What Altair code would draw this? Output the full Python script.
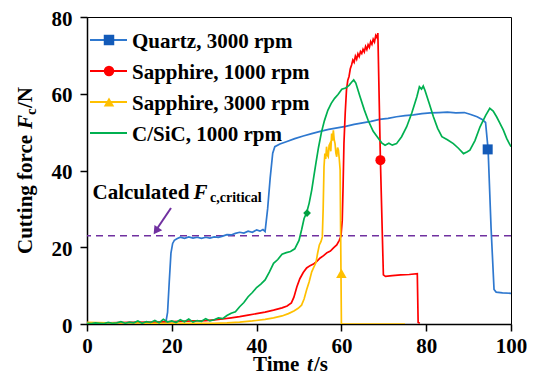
import altair as alt
import pandas as pd

FONT = "Liberation Serif"

# ---------------- data ----------------
series_names = ["Quartz, 3000 rpm", "Sapphire, 1000 rpm", "Sapphire, 3000 rpm", "C/SiC, 1000 rpm"]
line_colors = ["#2E78CF", "#FF0000", "#FFC000", "#00B050"]
marker_colors = ["#135AB8", "#FF0000", "#FFC000", "#00A040"]
marker_shapes = ["square", "circle", "triangle-up", "diamond"]

quartz_t = [0, 4, 8, 12, 16, 18.6, 19.0, 19.4, 19.8, 20.2, 20.6, 21.2,
            22, 23, 24, 25, 26, 27, 28, 29, 30, 31, 32, 33, 34, 35, 36, 37, 38, 39, 40,
            40.8, 41.5, 42.0, 42.6, 43.2, 43.8, 44.3, 45.5,
            47, 49, 51, 53, 55, 57, 59, 61, 63, 65, 67, 69, 71, 73, 75, 77, 79, 81, 83, 85, 87, 89,
            90.5, 92, 93.2, 94.0, 94.6, 95.3, 96.0, 96.5, 98, 100]
quartz_f = [0.2, 0.3, 0.2, 0.3, 0.3, 0.4, 3.0, 11.0, 18.5, 21.0, 21.8, 22.2,
            22.6, 22.3, 22.7, 22.4, 22.6, 22.3, 22.6, 22.4, 22.7, 22.6, 22.9, 23.3, 23.2, 23.6, 23.9, 23.7, 24.2, 23.9, 24.5,
            24.2, 24.6, 24.1, 30.0, 38.0, 44.5, 46.2, 46.9,
            47.5, 48.3, 49.0, 49.6, 50.2, 50.7, 51.1, 51.5, 52.0, 52.4, 52.8, 53.3, 53.6, 54.0, 54.3, 54.5, 54.8, 55.0, 55.1, 55.2, 55.0, 55.1,
            54.6, 54.0, 53.3, 52.5, 45.5, 25.0, 9.0, 8.3, 8.1, 8.0]

sapph1000_t = [0, 5, 10, 15, 20, 25, 28, 30, 32, 34, 36, 38, 40, 42, 44, 46,
               47.2, 48.2, 48.8, 49.5, 50.2, 51.0, 51.8, 52.6, 53.4, 54.2, 55.0, 55.8, 56.6, 57.4, 58.2, 58.9, 59.5, 59.9,
               60.2, 60.4, 60.6, 60.9, 61.2, 61.5, 61.8,
               62.1, 62.4, 62.7, 63.0, 63.3, 63.6, 63.9, 64.2, 64.5, 64.8, 65.1, 65.4, 65.7, 66.0, 66.3, 66.6, 66.9,
               67.2, 67.5, 67.8, 68.1, 68.4, 68.6,
               69.2, 69.9, 70.4, 72, 74, 76, 77.9, 78.1, 78.5]
sapph1000_f = [0.3, 0.3, 0.4, 0.5, 0.6, 0.8, 0.9, 1.1, 1.3, 1.6, 1.9, 2.3, 2.7, 3.1, 3.6, 4.2,
               4.7, 5.5, 7.0, 9.7, 11.8, 13.4, 14.6, 15.2, 15.6, 16.3, 17.2, 17.8, 18.6, 19.0, 19.9, 20.6, 21.8, 22.9,
               27.0, 36.0, 47.0, 55.0, 61.0, 63.5, 64.5,
               66.5, 67.5, 68.8, 68.2, 69.8, 69.0, 70.4, 69.7, 71.0, 70.5, 71.6, 70.9, 72.3, 71.5, 72.8, 72.1, 73.6,
               72.9, 74.2, 73.5, 75.2, 74.6, 75.8,
               42.7, 12.8, 12.4, 12.6, 12.8, 12.9, 13.1, 0.4, 0.2]

sapph3000_t = [0, 5, 10, 15, 20, 25, 30, 33, 36, 39, 42, 44, 46,
               47.5, 48.8, 49.8, 50.6, 51.2, 51.8, 52.4, 53.0, 53.5, 54.0, 54.4, 54.8, 55.2, 55.5,
               55.7, 55.9, 56.1, 56.3, 56.5, 56.7, 56.9, 57.1, 57.3, 57.5, 57.7, 57.9, 58.1, 58.3, 58.5, 58.7,
               58.9, 59.1, 59.3, 59.5, 59.7, 60.0, 62, 66, 70, 75]
sapph3000_f = [0.4, 0.3, 0.3, 0.2, 0.2, 0.2, 0.2, 0.3, 0.5, 0.8, 1.2, 1.6, 2.1,
               2.7, 3.4, 4.1, 4.9, 6.5, 8.9, 11.0, 13.6, 14.8, 16.0, 18.5, 20.6, 21.5, 22.7,
               30.0, 41.0, 44.4, 43.0, 46.2, 44.0, 43.6, 46.5, 47.0, 45.0, 49.6, 47.8, 50.5, 48.0, 47.0, 44.5,
               43.6, 46.0, 45.3, 43.0, 40.1, 0.0, 0.0, 0.0, 0.0, 0.0]

csic_t = [0, 1, 2, 3, 4, 5, 6, 7, 8, 9, 10, 11, 12, 13, 14, 15, 16, 17, 18, 19, 20,
          21, 22, 23, 24, 25, 26, 27, 28, 29, 30, 31, 32, 33, 34, 35, 36, 37, 38, 39, 40,
          41, 42, 43, 44, 45, 46, 47, 48, 49, 50,
          50.6, 51.2, 51.8, 52.4, 53.0, 53.5, 54.0, 54.6, 55.3, 56.0, 56.8, 57.6, 58.4, 59.2, 60.1, 61.0, 61.8,
          62.4, 62.9, 63.4,
          64.4, 65.4, 66.3, 67.5, 68.7, 69.5, 70.3, 71.2, 72.0, 73.0, 74.2, 75.4, 76.6, 77.8, 78.4, 78.9, 79.3, 79.7,
          80.7, 81.7, 82.7, 83.7, 85.0, 86.4, 87.6, 88.8, 89.6, 90.3, 91.5, 92.7, 94.0, 95.0, 95.8, 96.6, 97.4,
          98.2, 99.0, 100]
csic_f = [0.2, 0.1, 0.3, 0.2, 0.1, 0.4, 0.2, 0.3, 0.6, 0.2, 0.5, 0.3, 0.8, 0.2, 0.6, 0.4, 0.9, 0.3, 1.2, 0.5, 0.8,
          0.4, 1.1, 0.6, 1.3, 0.5, 0.9, 0.7, 1.4, 0.8, 1.1, 1.6, 1.4, 2.2, 2.8, 3.2, 4.5, 5.6, 7.1, 8.2, 9.5,
          10.4, 11.5, 13.5, 15.8, 16.8, 18.2, 18.6, 18.9, 19.6, 21.8,
          24.5, 27.5, 29.0, 31.5, 34.9, 38.5, 42.0, 46.0, 50.0, 53.0, 55.7, 57.5, 58.8, 59.8, 61.2, 61.5, 62.2,
          63.0, 63.6, 62.8,
          59.2, 55.8, 53.1, 50.2, 48.4, 47.2, 46.6, 47.1, 46.6, 47.0, 48.8, 51.4, 55.0, 59.2, 61.8, 61.2, 62.0, 60.9,
          57.5, 54.0, 51.0, 48.8, 48.0, 47.0, 45.8, 44.4, 44.8, 45.3, 47.8, 51.4, 54.3, 56.2, 55.5, 54.0, 52.3,
          50.5, 48.3, 46.2]

marker_t = [94.5, 69.2, 60.0, 51.9]
marker_f = [45.5, 42.7, 13.2, 28.9]
marker_sizes = [100, 100, 110, 60]

critical_force = [23]
x_ticks = [0, 20, 40, 60, 80, 100]
y_ticks = [0, 20, 40, 60, 80]

series_t = [quartz_t, sapph1000_t, sapph3000_t, csic_t]
series_f = [quartz_f, sapph1000_f, sapph3000_f, csic_f]

# ---------------- chart ----------------
X = alt.X("t:Q", scale=alt.Scale(domain=[0, 100], nice=False),
          axis=alt.Axis(values=x_ticks, title=None, labelFlush=False, labelPadding=4))
Y = alt.Y("F:Q", scale=alt.Scale(domain=[0, 80], nice=False),
          axis=alt.Axis(values=y_ticks, title=None, labelFlush=False, labelPadding=8,
                        labelOffset=2))

one = pd.DataFrame({"a": [0]})
layers = []

# dashed critical force line (drawn first, under data)
layers.append(
    alt.Chart(pd.DataFrame({"F": critical_force}))
    .mark_rule(color="#7030A0", strokeWidth=1.6, strokeDash=[7, 5])
    .encode(y=Y)
)

for name, ts, fs, col in zip(series_names, series_t, series_f, line_colors):
    df = pd.DataFrame({"t": ts, "F": fs, "i": list(range(len(ts)))})
    layers.append(
        alt.Chart(df).mark_line(color=col, strokeWidth=1.7, clip=True)
        .encode(x=X, y=Y, order="i:Q")
    )

for t, f, shp, col, sz in zip(marker_t, marker_f, marker_shapes, marker_colors, marker_sizes):
    df = pd.DataFrame({"t": [t], "F": [f]})
    layers.append(
        alt.Chart(df).mark_point(shape=shp, filled=True, size=sz, color=col, opacity=1)
        .encode(x=X, y=Y)
    )


def txt(s, x, y, size=21, style="normal", angle=0, align="left", baseline="alphabetic"):
    return (alt.Chart(one)
            .mark_text(text=s, font=FONT, fontSize=size, fontWeight="bold", fontStyle=style,
                       angle=angle, align=align, baseline=baseline, color="black")
            .encode(x=alt.value(x), y=alt.value(y)))


# legend (manual, top-left inside plot)
legend_rows = [23, 54, 85, 116]
for k, (name, col) in enumerate(zip(series_names, line_colors)):
    ry = legend_rows[k]
    layers.append(
        alt.Chart(one).mark_rule(color=col, strokeWidth=2)
        .encode(x=alt.value(3), x2=alt.value(40), y=alt.value(ry))
    )
    if k < 3:
        layers.append(
            alt.Chart(one).mark_point(shape=marker_shapes[k], filled=True, size=110,
                                      color=marker_colors[k], opacity=1)
            .encode(x=alt.value(22), y=alt.value(ry))
        )
    layers.append(txt(name, 45, ry + 7.5))

# annotation "Calculated F_c,critical" with arrow
layers.append(txt("Calculated", 5.5, 181.5))
layers.append(txt("F", 106.5, 181.5, style="italic"))
layers.append(txt("c,critical", 123, 185, size=14))
layers.append(
    alt.Chart(one).mark_rule(color="#7030A0", strokeWidth=2)
    .encode(x=alt.value(84), y=alt.value(191), x2=alt.value(70.5), y2=alt.value(211))
)
layers.append(
    alt.Chart(one).mark_point(shape="triangle-up", filled=True, size=90, angle=215,
                              color="#7030A0", opacity=1)
    .encode(x=alt.value(69), y=alt.value(214))
)

# axis titles with italic symbols
layers.append(txt("Time", 166, 354))
layers.append(txt("t", 220, 354, style="italic"))
layers.append(txt("/s", 227, 354))

yx = -55.5
layers.append(txt("Cutting force", yx, 237, angle=270))
layers.append(txt("F", yx, 112, angle=270, style="italic"))
layers.append(txt("c", yx + 4.5, 98, size=15, angle=270))
layers.append(txt("/N", yx, 91, angle=270))

chart = (
    alt.layer(*layers)
    .properties(width=424, height=307,
                autosize=alt.AutoSizeParams(type="none"),
                padding={"left": 79, "top": 9, "right": 16, "bottom": 51})
    .configure_view(stroke="black", strokeWidth=1)
    .configure_axis(grid=False, domainColor="black", domainWidth=1.5,
                    tickColor="black", tickWidth=1.5, tickSize=7,
                    labelFont=FONT, labelFontSize=21, labelFontWeight="bold",
                    labelColor="black")
)

chart.save("out.html", embed_options={"renderer": "svg", "actions": False})
